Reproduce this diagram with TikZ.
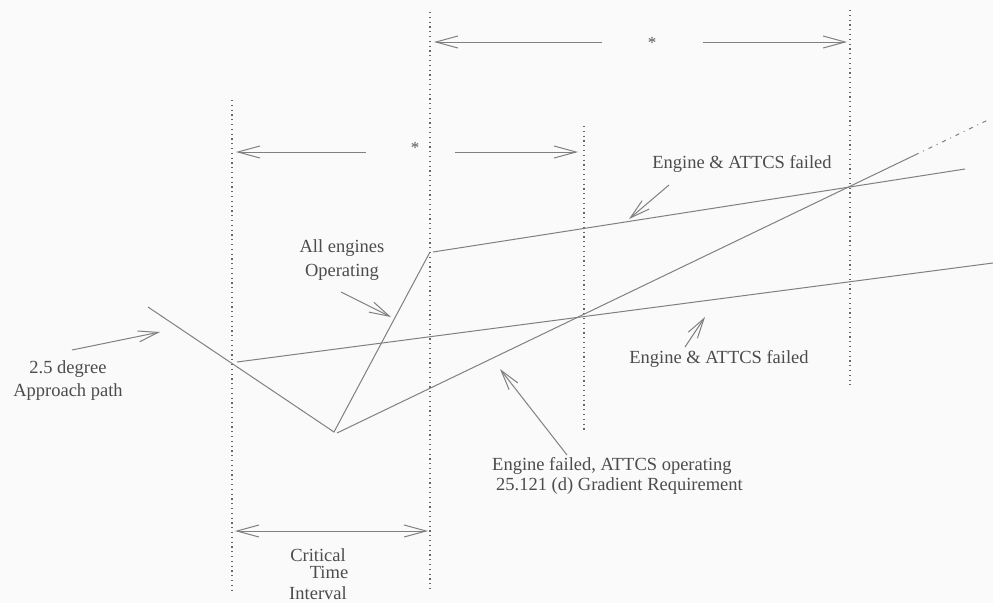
\documentclass[tikz,border=0pt]{standalone}
\usepackage{fontspec}
\setmainfont{Liberation Serif}
\usetikzlibrary{arrows.meta}
\begin{document}
\begin{tikzpicture}[x=1pt,y=-1pt,
  lbl/.style={text=black!70, font=\fontsize{18.5}{23}\selectfont, inner sep=0pt, align=center},
  curve/.style={draw=black!50, line width=1pt},
  guide/.style={draw=black!60, line width=1.2pt, dash pattern=on 1.2pt off 3.6pt},
  dim/.style={draw=black!50, line width=1pt, -{Straight Barb[length=22pt,width=12pt,line width=1pt]}},
  ptr/.style={draw=black!50, line width=1pt, -{Straight Barb[length=20pt,width=11pt,line width=1pt]}},
  star/.style={text=black!65, font=\fontsize{17}{17}\selectfont, inner sep=0pt}]
\fill[black!2] (0,0) rectangle (993,603);
\useasboundingbox (0,0) rectangle (993,603);

% guide lines
\coordinate (g1t) at (232,100); \coordinate (g1b) at (232,592);
\coordinate (g2t) at (430,12);  \coordinate (g2b) at (430,592);
\coordinate (g3t) at (584,126); \coordinate (g3b) at (584,432);
\coordinate (g4t) at (850,10);  \coordinate (g4b) at (850,385);
\draw[guide] (g1t) -- (g1b);
\draw[guide] (g2t) -- (g2b);
\draw[guide] (g3t) -- (g3b);
\draw[guide] (g4t) -- (g4b);

% dimension arrows
\node[star] (s1) at (652,43) {*};
\coordinate (d1l) at (434,42); \coordinate (d1a) at (602,42);
\coordinate (d1b) at (703,42); \coordinate (d1r) at (847,42);
\draw[dim] (d1a) -- (d1l);
\draw[dim] (d1b) -- (d1r);

\node[star] (s2) at (415,148) {*};
\coordinate (d2l) at (236,152); \coordinate (d2a) at (366,152);
\coordinate (d2b) at (455,152); \coordinate (d2r) at (578,152);
\draw[dim] (d2a) -- (d2l);
\draw[dim] (d2b) -- (d2r);

\coordinate (d3l) at (235,531); \coordinate (d3r) at (428,531);
\draw[dim,{Straight Barb[length=22pt,width=12pt,line width=1pt]}-{Straight Barb[length=22pt,width=12pt,line width=1pt]}] (d3l) -- (d3r);

% flight paths
\coordinate (ap) at (148,307);
\coordinate (v) at (334,432);
\coordinate (ae) at (430,252);
\coordinate (uf1) at (433,252); \coordinate (uf2) at (965,169);
\coordinate (lf1) at (237,362); \coordinate (lf2) at (993,263);
\coordinate (ef1) at (337,433); \coordinate (ef2) at (915,155); \coordinate (ef3) at (988,120);
\draw[curve] (ap) -- (v) -- (ae);
\draw[curve] (uf1) -- (uf2);
\draw[curve] (lf1) -- (lf2);
\draw[curve] (ef1) -- (ef2);
\draw[curve, dash pattern=on 4pt off 5pt on 1pt off 5pt] (ef2) -- (ef3);

% labels
\node[lbl] (appr) at (68,381) {2.5 degree\\Approach path};
\node[lbl] (allop) at (342,260) {All engines\\[1pt]Operating};
\node[lbl] (upf) at (742,164) {Engine \& ATTCS failed};
\node[lbl] (lof) at (719,359) {Engine \& ATTCS failed};
\node[lbl, anchor=west, align=left, font=\fontsize{18.5}{20}\selectfont] (eng) at (492,476) {Engine failed, ATTCS operating\\\hspace*{4pt}25.121 (d) Gradient Requirement};
\node[lbl] (crit) at (318,555) {Critical};
\node[lbl] (time) at (329,572) {Time};
\node[lbl] (intv) at (318,593) {Interval};

% pointer arrows
\coordinate (p1a) at (72,350);  \coordinate (p1b) at (160,332);
\coordinate (p2a) at (341,292); \coordinate (p2b) at (391,317);
\coordinate (p3a) at (669,185); \coordinate (p3b) at (629,219);
\coordinate (p4a) at (685,347); \coordinate (p4b) at (705,317);
\coordinate (p5a) at (567,455); \coordinate (p5b) at (500,369);
\draw[ptr] (p1a) -- (p1b);
\draw[ptr] (p2a) -- (p2b);
\draw[ptr] (p3a) -- (p3b);
\draw[ptr] (p4a) -- (p4b);
\draw[ptr] (p5a) -- (p5b);
\end{tikzpicture}
\end{document}
